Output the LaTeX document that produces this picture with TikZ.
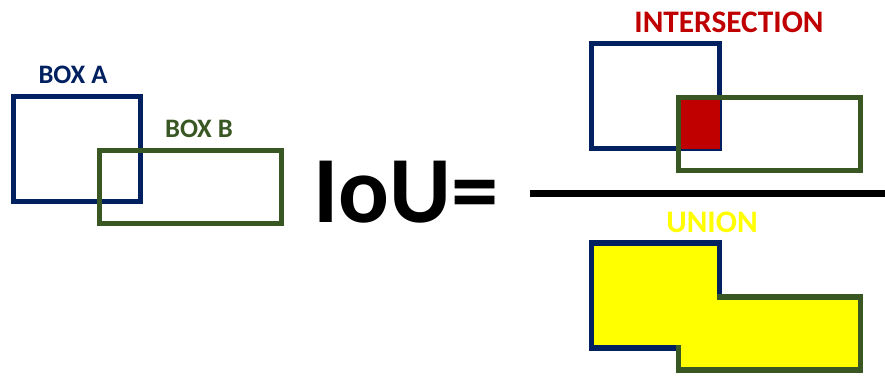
\documentclass[tikz,border=0pt]{standalone}
\usepackage{fontspec}
\setmainfont{Carlito}
\definecolor{boxblue}{HTML}{002060}
\definecolor{boxgreen}{HTML}{385723}
\definecolor{isred}{HTML}{C00000}
\definecolor{unyellow}{HTML}{FFFF00}
\begin{document}
\begin{tikzpicture}[x=0.75pt,y=-0.75pt,
  frameA/.style={draw=boxblue,line width=3.9pt},
  frameB/.style={draw=boxgreen,line width=3.9pt},
  lbl/.style={font=\bfseries\fontsize{20}{24}\selectfont,inner sep=0pt},
  bigl/.style={font=\bfseries\fontsize{23.5}{27}\selectfont,inner sep=0pt}]
\useasboundingbox (0,0) rectangle (885,376);

% left: the two boxes
\draw[frameA] (13.5,96.5) rectangle (140.5,201.5);
\draw[frameB] (99.5,150.5) rectangle (281.5,223.5);
\node[lbl,text=boxblue] (labA) at (73,75) {BOX A};
\node[lbl,text=boxgreen] (labB) at (199,129) {BOX B};

% formula
\node[font=\bfseries\fontsize{71}{78}\selectfont,inner sep=0pt,anchor=base west] (iou) at (313,222) {IoU=};

% fraction bar
\coordinate (barL) at (530,193.5);
\coordinate (barR) at (885,193.5);
\draw[line width=4.6pt] (barL) -- (barR);

% numerator: intersection
\node[bigl,text=isred] (labI) at (729,22) {INTERSECTION};
\draw[frameA] (591.5,43.5) rectangle (719.5,148.5);
\fill[isred] (678.5,97.5) rectangle (719.5,148.5);
\draw[frameB] (678.5,97.5) rectangle (860.5,170.5);

% denominator: union
\node[bigl,text=unyellow] (labU) at (712,222) {UNION};
\fill[unyellow] (591.5,243) -- (719.5,243) -- (719.5,297) -- (860.5,297)
  -- (860.5,370) -- (678.5,370) -- (678.5,348) -- (591.5,348) -- cycle;
\draw[frameA,line cap=rect] (678.5,348) -- (591.5,348) -- (591.5,243) -- (719.5,243) -- (719.5,297);
\draw[frameB,line cap=rect] (719.5,297) -- (860.5,297) -- (860.5,370) -- (678.5,370) -- (678.5,348);
\end{tikzpicture}
\end{document}
